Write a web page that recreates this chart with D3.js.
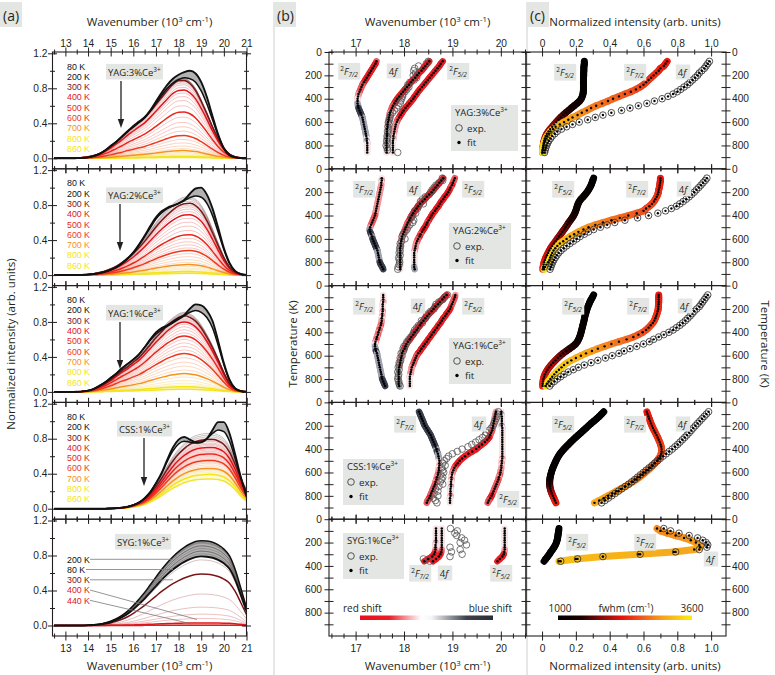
<!DOCTYPE html>
<html><head><meta charset="utf-8">
<script src="https://cdn.jsdelivr.net/npm/d3@7"></script>
<style>
body{margin:0;background:#fff}
text{font-family:'Open Sans','Noto Sans',sans-serif;fill:#231f20}
</style></head>
<body><svg width="775" height="675"></svg>
<script>
// ================= DATA =================
const wn = [12.5,12.75,13,13.25,13.5,13.75,14,14.25,14.5,14.75,15,15.25,15.5,15.75,16,16.25,16.5,16.75,17,17.25,17.5,17.75,18,18.25,18.5,18.75,19,19.25,19.5,19.75,20,20.25,20.5,20.75,21];
const tempsWarm = [220,240,260,280,300,320,340,360,380,400,420,440,460,480,500,520,540,560,580,600,620,640,660,680,700,720,740,760,780,800,820,840,860];
const thickTemps = [80,200,300,400,500,600,700,800,860];
const legendTemps = ["80 K","200 K","300 K","400 K","500 K","600 K","700 K","800 K","860 K"];

const aYAG3_80   = [0,0,0,0,0.002,0.005,0.01,0.025,0.05,0.09,0.14,0.19,0.25,0.31,0.37,0.42,0.47,0.55,0.65,0.75,0.84,0.91,0.955,0.985,1.0,0.97,0.87,0.70,0.48,0.27,0.11,0.035,0.01,0.003,0];
const aYAG3_200  = [0,0,0,0,0.002,0.005,0.01,0.025,0.05,0.09,0.14,0.19,0.25,0.31,0.36,0.41,0.46,0.54,0.63,0.72,0.80,0.86,0.90,0.92,0.91,0.87,0.77,0.62,0.44,0.26,0.12,0.04,0.012,0.003,0];
const aYAG3_warm = [0,0,0,0.002,0.005,0.01,0.02,0.035,0.06,0.10,0.15,0.21,0.27,0.34,0.40,0.46,0.52,0.60,0.69,0.78,0.87,0.95,0.995,1.0,0.96,0.87,0.73,0.57,0.40,0.25,0.13,0.055,0.02,0.006,0.002];
const aYAG3_amp  = [0.915,0.91,0.905,0.90,0.89,0.875,0.86,0.84,0.81,0.78,0.745,0.705,0.66,0.60,0.53,0.47,0.41,0.36,0.31,0.26,0.215,0.175,0.14,0.11,0.088,0.068,0.052,0.04,0.03,0.022,0.017,0.013,0.01];

const aYAG2_80   = [0,0,0,0,0.001,0.003,0.006,0.012,0.022,0.038,0.06,0.09,0.135,0.19,0.26,0.35,0.45,0.56,0.66,0.73,0.77,0.795,0.82,0.86,0.93,0.99,1.0,0.92,0.76,0.54,0.31,0.14,0.045,0.012,0.003];
const aYAG2_200  = [0,0,0,0,0.001,0.003,0.006,0.012,0.022,0.038,0.06,0.09,0.135,0.19,0.25,0.34,0.44,0.54,0.64,0.71,0.76,0.79,0.82,0.85,0.885,0.905,0.89,0.82,0.68,0.49,0.29,0.13,0.045,0.012,0.003];
const aYAG2_warm = [0,0,0,0,0.002,0.005,0.01,0.02,0.035,0.055,0.085,0.12,0.17,0.23,0.30,0.38,0.47,0.57,0.67,0.76,0.84,0.91,0.965,0.995,1.0,0.97,0.89,0.76,0.59,0.41,0.24,0.11,0.04,0.012,0.003];
const aYAG2_amp  = [0.895,0.88,0.865,0.845,0.82,0.80,0.78,0.755,0.725,0.69,0.65,0.605,0.56,0.51,0.46,0.42,0.38,0.345,0.31,0.28,0.245,0.21,0.175,0.145,0.12,0.10,0.08,0.065,0.05,0.04,0.032,0.025,0.02];

const aYAG1_80   = [0,0,0,0,0.002,0.006,0.015,0.035,0.07,0.11,0.16,0.21,0.27,0.32,0.37,0.43,0.51,0.60,0.68,0.73,0.76,0.80,0.84,0.88,0.95,1.0,0.99,0.93,0.81,0.58,0.33,0.14,0.04,0.01,0.002];
const aYAG1_200  = [0,0,0,0,0.002,0.006,0.015,0.035,0.07,0.11,0.16,0.21,0.27,0.32,0.37,0.43,0.51,0.59,0.66,0.71,0.75,0.79,0.83,0.87,0.91,0.93,0.91,0.85,0.73,0.53,0.31,0.13,0.04,0.01,0.002];
const aYAG1_warm = [0,0,0,0,0.002,0.006,0.015,0.035,0.07,0.11,0.16,0.22,0.28,0.33,0.39,0.45,0.53,0.62,0.71,0.79,0.87,0.93,0.98,1.0,0.98,0.93,0.84,0.72,0.58,0.42,0.25,0.11,0.035,0.009,0.002];
const aYAG1_amp  = [0.91,0.90,0.89,0.88,0.87,0.86,0.845,0.83,0.815,0.80,0.775,0.745,0.71,0.675,0.64,0.60,0.56,0.52,0.48,0.44,0.39,0.34,0.295,0.25,0.21,0.17,0.13,0.10,0.08,0.06,0.05,0.04,0.03];

const aCSS_80    = [0,0,0,0,0,0,0,0,0,0,0.003,0.006,0.012,0.022,0.04,0.07,0.12,0.19,0.29,0.41,0.56,0.70,0.79,0.82,0.79,0.76,0.76,0.80,0.90,0.99,0.99,0.86,0.62,0.36,0.14];
const aCSS_200   = [0,0,0,0,0,0,0,0,0,0,0.003,0.006,0.012,0.022,0.04,0.07,0.12,0.19,0.29,0.40,0.54,0.66,0.74,0.77,0.76,0.75,0.76,0.80,0.86,0.90,0.88,0.77,0.57,0.35,0.15];
const aCSS_warm  = [0,0,0,0,0,0,0,0,0,0,0.003,0.008,0.016,0.03,0.055,0.09,0.14,0.22,0.32,0.44,0.57,0.69,0.79,0.87,0.93,0.97,0.99,1.0,1.0,0.98,0.93,0.82,0.64,0.43,0.25];
const aCSS_amp   = [0.86,0.84,0.82,0.80,0.79,0.77,0.75,0.735,0.72,0.70,0.685,0.67,0.655,0.64,0.625,0.61,0.595,0.58,0.565,0.55,0.535,0.52,0.50,0.48,0.46,0.445,0.43,0.415,0.40,0.39,0.375,0.36,0.34];

const aSYG_temps = [80,100,120,140,160,180,200,220,240,260,280,300,320,340,360,380,400,420,440];
const aSYG_shape = [0,0,0,0,0,0,0.003,0.008,0.016,0.03,0.05,0.08,0.12,0.17,0.235,0.31,0.39,0.48,0.57,0.66,0.74,0.81,0.87,0.92,0.96,0.99,1.0,0.995,0.98,0.95,0.90,0.82,0.66,0.44,0.21];
const aSYG_amp   = [0.79,0.82,0.85,0.88,0.91,0.94,0.97,0.95,0.91,0.85,0.75,0.59,0.36,0.21,0.13,0.08,0.03,0.012,0.004];
const sygThick = [80,200,300,400,440];
const sygLegend = ["200 K","80 K","300 K","400 K","440 K"];

const tempsK = [80,100,120,140,160,180,200,220,240,260,280,300,320,340,360,380,400,420,440,460,480,500,520,540,560,580,600,620,640,660,680,700,720,740,760,780,800,820,840,860];
const tempsSYG = [80,100,120,140,160,180,200,220,240,260,280,300,320,340,360];

const bYAG3_F72 = [17.43,17.41,17.38,17.35,17.32,17.29,17.26,17.23,17.20,17.17,17.14,17.12,17.10,17.08,17.06,17.05,17.04,17.04,17.04,17.05,17.06,17.08,17.10,17.12,17.14,17.15,17.16,17.17,17.18,17.19,17.20,17.21,17.22,17.23,17.23,17.24,17.24,17.24,17.24,17.24];
const bYAG3_4f  = [18.52,18.48,18.44,18.40,18.36,18.31,18.27,18.23,18.18,18.14,18.10,18.06,18.02,17.98,17.94,17.90,17.86,17.83,17.80,17.77,17.75,17.73,17.71,17.70,17.69,17.68,17.67,17.66,17.66,17.65,17.65,17.65,17.65,17.64,17.64,17.64,17.64,17.64,17.64,17.64];
const bYAG3_F52 = [18.80,18.76,18.73,18.69,18.65,18.61,18.57,18.53,18.49,18.45,18.41,18.37,18.33,18.29,18.26,18.22,18.19,18.15,18.11,18.07,18.03,17.99,17.96,17.93,17.90,17.87,17.85,17.83,17.82,17.81,17.80,17.79,17.78,17.78,17.77,17.77,17.77,17.77,17.77,17.77];
const bYAG3_exp = [18.50,18.46,18.30,18.22,18.20,18.24,18.19,18.26,18.21,18.12,18.08,18.10,18.06,18.02,17.98,17.97,17.95,17.93,17.92,17.88,17.85,17.80,17.76,17.72,17.71,17.70,17.68,17.69,17.67,17.68,17.66,17.67,17.65,17.66,17.64,17.66,17.63,17.65,17.66,17.87];

const bYAG2_F72 = [17.54,17.54,17.53,17.53,17.52,17.51,17.50,17.49,17.48,17.47,17.46,17.45,17.44,17.43,17.42,17.41,17.40,17.38,17.36,17.34,17.32,17.30,17.29,17.30,17.32,17.34,17.35,17.37,17.39,17.41,17.43,17.45,17.46,17.47,17.48,17.49,17.50,17.52,17.55,17.57];
const bYAG2_4f  = [18.81,18.77,18.73,18.69,18.65,18.61,18.57,18.52,18.47,18.43,18.38,18.33,18.29,18.26,18.22,18.19,18.16,18.13,18.11,18.08,18.06,18.04,18.02,18.00,17.98,17.96,17.95,17.94,17.93,17.93,17.92,17.92,17.92,17.92,17.92,17.92,17.92,17.92,17.92,17.92];
const bYAG2_F52 = [19.05,19.03,19.01,18.99,18.96,18.94,18.91,18.88,18.84,18.81,18.77,18.74,18.71,18.67,18.64,18.60,18.57,18.54,18.51,18.48,18.46,18.43,18.40,18.37,18.34,18.32,18.29,18.27,18.25,18.24,18.23,18.22,18.21,18.21,18.21,18.21,18.21,18.21,18.21,18.22];
const bYAG2_exp = [18.79,18.80,18.72,18.66,18.62,18.58,18.55,18.52,18.44,18.38,18.34,18.40,18.30,18.28,18.22,18.24,18.18,18.15,18.20,18.18,18.12,18.08,18.06,18.02,17.98,17.96,18.02,17.95,17.92,17.93,17.91,17.92,17.90,17.92,17.89,17.90,17.91,17.90,17.88,17.87];

const bYAG1_F72 = [17.57,17.57,17.57,17.57,17.56,17.56,17.56,17.56,17.55,17.55,17.54,17.54,17.53,17.52,17.50,17.49,17.47,17.46,17.44,17.43,17.41,17.40,17.40,17.41,17.42,17.44,17.45,17.46,17.47,17.48,17.49,17.50,17.51,17.52,17.53,17.54,17.55,17.57,17.59,17.61];
const bYAG1_4f  = [18.88,18.83,18.79,18.74,18.70,18.65,18.61,18.57,18.52,18.48,18.44,18.40,18.36,18.33,18.29,18.26,18.22,18.19,18.15,18.12,18.08,18.05,18.03,18.01,17.98,17.96,17.95,17.94,17.93,17.92,17.91,17.90,17.89,17.89,17.89,17.89,17.89,17.89,17.89,17.90];
const bYAG1_F52 = [19.06,19.05,19.03,19.01,18.99,18.97,18.95,18.92,18.88,18.85,18.81,18.78,18.75,18.71,18.68,18.64,18.61,18.57,18.54,18.50,18.47,18.43,18.40,18.36,18.33,18.29,18.26,18.24,18.22,18.20,18.18,18.16,18.15,18.14,18.13,18.12,18.12,18.12,18.12,18.12];
const bYAG1_exp = [18.90,18.84,18.80,18.72,18.66,18.64,18.62,18.55,18.50,18.46,18.44,18.36,18.38,18.30,18.26,18.22,18.20,18.18,18.14,18.10,18.06,18.04,18.00,17.98,17.99,17.94,17.96,17.92,17.93,17.90,17.90,17.88,17.90,17.87,17.89,17.88,17.87,17.89,17.90,17.92];

const bCSS_F72 = [18.31,18.33,18.35,18.37,18.39,18.41,18.43,18.46,18.49,18.52,18.55,18.57,18.59,18.61,18.63,18.65,18.67,18.68,18.70,18.71,18.72,18.73,18.73,18.73,18.72,18.72,18.71,18.70,18.68,18.67,18.65,18.64,18.62,18.60,18.58,18.56,18.54,18.52,18.49,18.47];
const bCSS_4f  = [19.90,19.89,19.88,19.87,19.86,19.85,19.84,19.83,19.82,19.80,19.78,19.76,19.72,19.67,19.61,19.55,19.49,19.41,19.33,19.26,19.20,19.15,19.11,19.07,19.04,19.02,19.00,18.99,18.98,18.98,18.97,18.97,18.97,18.96,18.96,18.96,18.96,18.95,18.95,18.95];
const bCSS_F52 = [20.01,20.01,20.02,20.02,20.02,20.02,20.02,20.03,20.03,20.03,20.03,20.03,20.03,20.03,20.03,20.03,20.03,20.03,20.03,20.03,20.03,20.02,20.02,20.01,20.01,20.00,19.99,19.98,19.96,19.95,19.93,19.91,19.89,19.87,19.85,19.83,19.81,19.78,19.75,19.73];
const bCSS_exp = [19.95,19.93,19.92,19.90,19.88,19.86,19.84,19.80,19.75,19.70,19.68,19.62,19.55,19.48,19.40,19.32,19.20,19.10,19.00,18.92,18.88,18.83,18.80,18.85,18.78,18.80,18.82,18.76,18.80,18.78,18.75,18.80,18.72,18.65,18.70,18.62,18.70,18.60,18.65,18.68];

const bSYG_F72 = [18.66,18.66,18.66,18.66,18.66,18.66,18.66,18.65,18.65,18.65,18.64,18.62,18.58,18.50,18.42];
const bSYG_4f  = [18.78,18.78,18.78,18.78,18.78,18.78,18.78,18.78,18.78,18.78,18.77,18.75,18.72,18.66,18.60];
const bSYG_F52 = [20.08,20.08,20.08,20.08,20.08,20.08,20.08,20.08,20.08,20.08,20.07,20.06,20.03,19.98,19.93];
const bSYG_exp = [18.96,19.10,19.05,19.09,19.19,19.25,19.16,19.29,18.95,19.16,18.98,19.20,18.95,18.40,18.53];

const cYAG3_F52 = [0.25,0.25,0.248,0.247,0.247,0.246,0.246,0.245,0.245,0.245,0.245,0.245,0.245,0.244,0.242,0.238,0.232,0.222,0.207,0.19,0.173,0.157,0.14,0.125,0.11,0.097,0.084,0.072,0.06,0.048,0.038,0.028,0.021,0.016,0.012,0.009,0.007,0.005,0.004,0.003];
const cYAG3_F72 = [0.74,0.73,0.72,0.70,0.69,0.675,0.66,0.645,0.63,0.615,0.60,0.58,0.555,0.525,0.49,0.455,0.42,0.39,0.355,0.32,0.29,0.265,0.235,0.21,0.18,0.155,0.13,0.105,0.08,0.065,0.05,0.04,0.03,0.023,0.017,0.012,0.009,0.006,0.004,0.003];
const cYAG3_4f  = [0.99,0.98,0.97,0.96,0.945,0.93,0.92,0.905,0.89,0.875,0.86,0.84,0.82,0.80,0.775,0.745,0.71,0.665,0.62,0.57,0.52,0.47,0.41,0.36,0.315,0.27,0.22,0.18,0.145,0.115,0.09,0.075,0.06,0.05,0.04,0.033,0.027,0.022,0.018,0.015];

const cYAG2_F52 = [0.305,0.30,0.295,0.29,0.283,0.275,0.266,0.255,0.243,0.23,0.22,0.213,0.208,0.204,0.199,0.194,0.187,0.178,0.168,0.158,0.149,0.14,0.13,0.12,0.11,0.10,0.09,0.08,0.07,0.06,0.051,0.043,0.036,0.029,0.022,0.017,0.012,0.009,0.006,0.004];
const cYAG2_F72 = [0.70,0.70,0.698,0.696,0.694,0.69,0.688,0.684,0.678,0.67,0.662,0.65,0.635,0.615,0.60,0.56,0.51,0.46,0.41,0.36,0.315,0.275,0.245,0.215,0.19,0.165,0.145,0.125,0.105,0.09,0.078,0.068,0.06,0.054,0.048,0.043,0.035,0.026,0.018,0.012];
const cYAG2_4f  = [0.975,0.965,0.952,0.94,0.927,0.913,0.90,0.885,0.87,0.853,0.835,0.815,0.795,0.765,0.73,0.685,0.63,0.565,0.49,0.43,0.385,0.345,0.305,0.275,0.25,0.225,0.205,0.185,0.165,0.145,0.128,0.112,0.098,0.088,0.078,0.07,0.063,0.057,0.052,0.047];

const cYAG1_F52 = [0.305,0.298,0.29,0.283,0.277,0.271,0.266,0.262,0.258,0.254,0.251,0.248,0.245,0.241,0.238,0.234,0.231,0.227,0.222,0.216,0.209,0.198,0.182,0.163,0.143,0.124,0.108,0.093,0.079,0.066,0.053,0.042,0.032,0.024,0.017,0.012,0.008,0.006,0.004,0.003];
const cYAG1_F72 = [0.69,0.69,0.69,0.69,0.689,0.688,0.687,0.684,0.68,0.675,0.67,0.664,0.655,0.643,0.63,0.615,0.595,0.57,0.54,0.50,0.455,0.41,0.37,0.33,0.295,0.26,0.23,0.20,0.173,0.15,0.13,0.115,0.10,0.085,0.072,0.06,0.049,0.038,0.028,0.02];
const cYAG1_4f  = [0.98,0.97,0.96,0.95,0.94,0.93,0.915,0.90,0.888,0.876,0.862,0.848,0.832,0.815,0.795,0.775,0.75,0.72,0.69,0.66,0.635,0.60,0.56,0.52,0.485,0.455,0.415,0.375,0.33,0.29,0.25,0.215,0.185,0.155,0.13,0.11,0.09,0.073,0.055,0.045];

const cCSS_F52 = [0.365,0.352,0.338,0.323,0.307,0.29,0.275,0.26,0.245,0.23,0.214,0.199,0.184,0.17,0.156,0.142,0.129,0.117,0.106,0.097,0.089,0.082,0.076,0.07,0.064,0.059,0.055,0.051,0.048,0.046,0.045,0.045,0.046,0.049,0.053,0.058,0.064,0.07,0.076,0.082];
const cCSS_F72 = [0.62,0.624,0.629,0.634,0.639,0.644,0.65,0.656,0.663,0.67,0.677,0.684,0.69,0.696,0.701,0.705,0.707,0.707,0.704,0.699,0.69,0.68,0.668,0.655,0.641,0.626,0.61,0.594,0.577,0.558,0.537,0.514,0.49,0.465,0.44,0.415,0.39,0.365,0.338,0.31];
const cCSS_4f  = [0.985,0.972,0.959,0.946,0.933,0.92,0.907,0.894,0.882,0.87,0.857,0.844,0.83,0.816,0.802,0.786,0.77,0.752,0.734,0.716,0.699,0.683,0.666,0.65,0.633,0.616,0.599,0.582,0.565,0.548,0.53,0.512,0.492,0.472,0.452,0.432,0.412,0.392,0.372,0.352];

const cSYG_F52 = [0.10,0.098,0.096,0.094,0.092,0.089,0.085,0.079,0.071,0.062,0.052,0.043,0.033,0.022,0.012];
const cSYG_F72 = [0.68,0.70,0.74,0.79,0.84,0.88,0.91,0.93,0.935,0.90,0.78,0.57,0.36,0.20,0.10];
const cSYG_4f  = [0.72,0.76,0.81,0.87,0.92,0.95,0.97,0.98,0.975,0.93,0.79,0.58,0.36,0.21,0.11];

const fwhmYAG3_F52 = [[80,1000],[420,1150],[600,1750],[860,2350]];
const fwhmYAG3_F72 = [[80,2250],[300,2500],[500,2850],[700,3300],[860,3500]];
const fwhmYAG2_F52 = [[80,1000],[350,1250],[550,1800],[860,2350]];
const fwhmYAG2_F72 = [[80,2250],[350,2550],[500,2900],[700,3350],[860,3500]];
const fwhmYAG1_F52 = [[80,1000],[480,1250],[650,1900],[860,2350]];
const fwhmYAG1_F72 = [[80,2250],[400,2550],[550,2950],[720,3350],[860,3500]];
const fwhmCSS_F52  = [[80,1000],[650,1150],[760,1800],[860,2350]];
const fwhmCSS_F72  = [[80,2250],[350,2450],[600,2800],[860,3100]];
const fwhmSYG_F52  = [[80,1000],[360,1050]];
const fwhmSYG_F72  = [[80,2900],[240,3000],[360,3250]];

const samples = ["YAG:3%Ce","YAG:2%Ce","YAG:1%Ce","CSS:1%Ce","SYG:1%Ce"];
const aYTicks = [0,0.4,0.8,1.2], aYMinor = [0.2,0.6,1.0];
const aXTicks = [13,14,15,16,17,18,19,20,21], aXMinor = [12.5,13.5,14.5,15.5,16.5,17.5,18.5,19.5,20.5];
const bXTicks = [17,18,19,20], bXMinor = [16.5,16.75,17.25,17.5,17.75,18.25,18.5,18.75,19.25,19.5,19.75,20.25,20.5];
const tTicks = [0,200,400,600,800], tMinor = [100,300,500,700,900];
const cXTicks = [0,0.2,0.4,0.6,0.8,1.0], cXMinor = [0.1,0.3,0.5,0.7,0.9];

// ================= LAYOUT / HELPERS =================
const FONT = "'Open Sans','Noto Sans',sans-serif";
const LFONT = "'Liberation Sans',Arial,sans-serif";
const INK = "#231f20", BOXC = "#e3e6e3";
const svg = d3.select("svg");
const defs = svg.append("defs");
const TOP = 52, RH = 116.8;
const rowTop = i => TOP + i*RH;
const xA = d3.scaleLinear().domain([12.43,21]).range([52.5,246.5]);
const xB = d3.scaleLinear().domain([16.45,20.52]).range([329,526]);
const xC = d3.scaleLinear().domain([-0.095,1.088]).range([526,726]);
const yA = i => d3.scaleLinear().domain([-0.12,1.215]).range([rowTop(i)+RH,rowTop(i)]);
const yT = i => d3.scaleLinear().domain([0,1000]).range([rowTop(i),rowTop(i)+RH]);

const tempColor = d3.scaleLinear().domain([80,200,300,400,500,600,700,800,860])
  .range(["#111111","#111111","#7b1518","#e0151b","#e8281d","#ec3b1e","#f6921e","#f4e41c","#f2e52a"]);
const shiftColor = d3.scaleLinear().domain([-0.03,-0.012,0,0.008,0.02])
  .range(["#ea1c24","#f2868a","#f6e4e6","#b4b7c6","#3b404e"]).clamp(true);
const fwhmStops = [0,0.18,0.33,0.48,0.62,0.78,1];
const fwhmCols = ["#000000","#1e0000","#8b0a0a","#e8140c","#f05420","#f7a21c","#f8ef10"];
const fwhmColor = d3.scaleLinear().domain(fwhmStops.map(s=>1000+s*2600)).range(fwhmCols).clamp(true);

function rich(parent, x, y, parts, size, anchor, color){
  const t = parent.append("text").attr("x",x).attr("y",y).attr("font-size",size)
    .attr("text-anchor",anchor||"start").style("fill",color||INK);
  let shift = 0;
  parts.forEach(([s,k])=>{
    k = k||"";
    const ts = t.append("tspan").text(s);
    let target = 0;
    if (k.includes("sup")) { target = -0.38*size; ts.attr("font-size",size*0.68); }
    if (k.includes("sub")) { target = 0.22*size; ts.attr("font-size",size*0.68); }
    if (k.includes("it")) ts.attr("font-style","italic");
    if (target !== shift) { ts.attr("dy", target-shift); shift = target; }
  });
  return t;
}
function boxed(parent, x, y, parts, size, anchor, padX, padY){
  const g = parent.append("g");
  const t = rich(g, x, y, parts, size, anchor);
  const b = t.node().getBBox();
  g.insert("rect","text").attr("x",b.x-padX).attr("y",b.y-padY).attr("width",b.width+2*padX)
    .attr("height",b.height+2*padY).attr("fill",BOXC);
  return g;
}
const F72 = [["2","sup"],["F","it"],["7/2","sub it"]];
const F52 = [["2","sup"],["F","it"],["5/2","sub it"]];
const F4f = [["4",""],["f","it"]];
const sampleParts = s => [[s,""],["3+","sup"]];

function axisG(axisGen, scale, vals, len, fmt, pad, pos, horizontal){
  const ax = axisGen(scale).tickValues(vals).tickSizeInner(0).tickSizeOuter(0).tickPadding(pad)
    .tickFormat(fmt || (()=>""));
  const g = svg.append("g").attr("transform", horizontal?`translate(0,${pos})`:`translate(${pos},0)`).call(ax);
  g.select(".domain").remove();
  g.attr("font-family",null).attr("font-size",null);
  const ln = g.selectAll(".tick line").attr("stroke",INK).attr("stroke-width",1);
  if (horizontal) ln.attr("y1",-len).attr("y2",len); else ln.attr("x1",-len).attr("x2",len);
  g.selectAll(".tick text").attr("font-size",10.2).style("fill",INK).style("font-family",LFONT);
  if (!fmt) g.selectAll(".tick text").remove();
  return g;
}
function frame(x0,x1,y0,y1){
  svg.append("rect").attr("x",x0).attr("y",y0).attr("width",x1-x0).attr("height",y1-y0)
    .attr("fill","none").attr("stroke",INK).attr("stroke-width",1.1);
}
function arrow(x, y0, y1){
  svg.append("line").attr("x1",x).attr("x2",x).attr("y1",y0).attr("y2",y1-8).attr("stroke",INK).attr("stroke-width",1.3);
  svg.append("path").attr("d",`M${x-3.2},${y1-9}L${x+3.2},${y1-9}L${x},${y1}Z`).attr("fill",INK);
}

// ================= BACKGROUND DECOR =================
svg.append("line").attr("x1",274).attr("x2",274).attr("y1",2).attr("y2",675).attr("stroke","#cdd0cd").attr("stroke-width",1);
svg.append("line").attr("x1",527).attr("x2",527).attr("y1",2).attr("y2",675).attr("stroke","#cdd0cd").attr("stroke-width",1);
[["(a)",0],["(b)",274],["(c)",527]].forEach(([s,x])=>{
  svg.append("rect").attr("x",x).attr("y",2).attr("width",22).attr("height",25).attr("fill",BOXC);
  svg.append("text").attr("x",x+3).attr("y",21).attr("font-size",14).text(s);
});

// ================= (a) SPECTRA =================
const aSets = [
  {cold:aYAG3_80, w200:aYAG3_200, warm:aYAG3_warm, amp:aYAG3_amp},
  {cold:aYAG2_80, w200:aYAG2_200, warm:aYAG2_warm, amp:aYAG2_amp},
  {cold:aYAG1_80, w200:aYAG1_200, warm:aYAG1_warm, amp:aYAG1_amp},
  {cold:aCSS_80,  w200:aCSS_200,  warm:aCSS_warm,  amp:aCSS_amp}
];
for (let i=0;i<5;i++){
  defs.append("clipPath").attr("id","clipA"+i).append("rect")
    .attr("x",xA.range()[0]).attr("y",rowTop(i)).attr("width",xA.range()[1]-xA.range()[0]).attr("height",RH);
}
function drawSpectra(i, curves, thick, lowT, highT){
  const y = yA(i);
  const g = svg.append("g").attr("clip-path",`url(#clipA${i})`);
  const line = d3.line().x((d,k)=>xA(wn[k])).y(d=>y(d)).curve(d3.curveMonotoneX);
  const cLow = curves.find(c=>c.T===lowT).v, cHigh = curves.find(c=>c.T===highT).v;
  const area = d3.area().x((d,k)=>xA(wn[k])).y0((d,k)=>y(Math.min(cLow[k],cHigh[k]))).y1((d,k)=>y(Math.max(cLow[k],cHigh[k]))).curve(d3.curveMonotoneX);
  g.append("path").datum(cLow).attr("d",area).attr("fill","#a4a4a4").attr("opacity",0.85);
  curves.filter(c=>!thick.includes(c.T)).forEach(c=>{
    g.append("path").datum(c.v).attr("d",line).attr("fill","none")
      .attr("stroke",c.T<200?"#555":tempColor(c.T)).attr("stroke-opacity",c.T<200?0.5:0.38).attr("stroke-width",0.7);
  });
  curves.filter(c=>thick.includes(c.T)).sort((a,b)=>b.T-a.T).forEach(c=>{
    g.append("path").datum(c.v).attr("d",line).attr("fill","none")
      .attr("stroke",tempColor(c.T)).attr("stroke-width",c.T===80?1.9:1.5);
  });
}
aSets.forEach((s,i)=>{
  const curves = [{T:80,v:s.cold},{T:200,v:s.w200}]
    .concat(tempsWarm.map((T,k)=>({T, v:s.warm.map(w=>w*s.amp[k])})));
  drawSpectra(i, curves, thickTemps, 80, 200);
  legendTemps.forEach((lab,k)=>{
    svg.append("text").attr("x",67).attr("y",rowTop(i)+17.5+k*10.3).attr("font-size",8.8)
      .style("font-family",LFONT).style("fill",tempColor(thickTemps[k])).text(lab);
  });
});
{
  const curves = aSYG_temps.map((T,k)=>({T, v:aSYG_shape.map(w=>w*aSYG_amp[k])}));
  drawSpectra(4, curves, sygThick, 80, 200);
  const yy = [562.5,572.8,583.1,593.4,603.7];
  const cols = ["#111","#111","#7b1518","#e0151b","#e0151b"];
  sygLegend.forEach((lab,k)=>{
    svg.append("text").attr("x",67).attr("y",yy[k]).attr("font-size",8.8).style("font-family",LFONT).style("fill",cols[k]).text(lab);
  });
  const leads = [[90,559.3,173,559.3],[86,569.5,173,569.5],[90,579.8,173,579.8],[90,590,197,619.5],[90,600.3,192,624]];
  leads.forEach(l=>svg.append("line").attr("x1",l[0]).attr("y1",l[1]).attr("x2",l[2]).attr("y2",l[3]).attr("stroke","#7a7a7a").attr("stroke-width",0.8));
}
boxed(svg,108,75.5,sampleParts(samples[0]),9.5,"start",2,1);
arrow(121,81,128);
boxed(svg,108,199,sampleParts(samples[1]),9.5,"start",2,1);
arrow(120,204,251);
boxed(svg,108,316.5,sampleParts(samples[2]),9.5,"start",2,1);
arrow(120,322,369);
boxed(svg,119,432.5,sampleParts(samples[3]),9.5,"start",2,1);
arrow(144,438,486);
boxed(svg,117,545.5,sampleParts(samples[4]),9.5,"start",2,1);

for (let i=0;i<5;i++){
  const y = yA(i);
  frame(52.5,246.5,rowTop(i),rowTop(i)+RH);
  axisG(d3.axisLeft,y,aYTicks,4.5,d3.format(".1f"),5,52.5,false);
  axisG(d3.axisLeft,y,aYMinor,2.5,null,0,52.5,false);
  axisG(d3.axisRight,y,aYTicks,4.5,null,0,246.5,false);
  axisG(d3.axisRight,y,aYMinor,2.5,null,0,246.5,false);
  axisG(d3.axisTop,xA,aXTicks,4.5,i===0?d3.format("d"):null,5.5,rowTop(i),true);
  axisG(d3.axisTop,xA,aXMinor,2.5,null,0,rowTop(i),true);
  axisG(d3.axisBottom,xA,aXTicks,4.5,i===4?d3.format("d"):null,8.5,rowTop(i)+RH,true);
  axisG(d3.axisBottom,xA,aXMinor,2.5,null,0,rowTop(i)+RH,true);
}

// ================= (b) PEAK POSITIONS =================
function drawB(i, temps, series, exp){
  const y = yT(i);
  const g = svg.append("g");
  series.forEach(s=>{
    for (let k=0;k<s.length-1;k++){
      g.append("line").attr("x1",xB(s[k])).attr("y1",y(temps[k])).attr("x2",xB(s[k+1])).attr("y2",y(temps[k+1]))
        .attr("stroke",shiftColor(s[k+1]-s[k])).attr("stroke-width",6.5).attr("stroke-linecap","round");
    }
  });
  g.selectAll(null).data(exp).join("circle").attr("cx",d=>xB(d)).attr("cy",(d,k)=>y(temps[k]))
    .attr("r",3.3).attr("fill","none").attr("stroke","#555").attr("stroke-width",0.8);
  series.forEach(s=>{
    g.selectAll(null).data(s).join("circle").attr("cx",d=>xB(d)).attr("cy",(d,k)=>y(temps[k]))
      .attr("r",1.25).attr("fill","#000");
  });
}
drawB(0,tempsK,[bYAG3_F72,bYAG3_4f,bYAG3_F52],bYAG3_exp);
drawB(1,tempsK,[bYAG2_F72,bYAG2_4f,bYAG2_F52],bYAG2_exp);
drawB(2,tempsK,[bYAG1_F72,bYAG1_4f,bYAG1_F52],bYAG1_exp);
drawB(3,tempsK,[bCSS_F72,bCSS_4f,bCSS_F52],bCSS_exp);
drawB(4,tempsSYG,[bSYG_F72,bSYG_4f,bSYG_F52],bSYG_exp);

const bLabels = [
  [[349,74.5],[393,74.5],[458,74.5]],
  [[364,192.5],[413,192.5],[473,192.5]],
  [[364,309.5],[417,309.5],[473,309.5]],
  [[405,427.5],[478,427.5],[508,502.5]],
  [[420,576.5],[444,576.5],[501,576.5]]
];
bLabels.forEach(r=>{
  boxed(svg,r[0][0],r[0][1],F72,9.5,"middle",2,1);
  boxed(svg,r[1][0],r[1][1],F4f,9.5,"middle",2,1);
  boxed(svg,r[2][0],r[2][1],F52,9.5,"middle",2,1);
});
function bLegend(x, top, w, sample){
  svg.append("rect").attr("x",x).attr("y",top).attr("width",w).attr("height",46).attr("fill",BOXC);
  rich(svg,x+4,top+11,sampleParts(sample),9.5,"start");
  svg.append("circle").attr("cx",x+8).attr("cy",top+23).attr("r",3.3).attr("fill","none").attr("stroke","#444").attr("stroke-width",0.9);
  svg.append("text").attr("x",x+16).attr("y",top+26.5).attr("font-size",9.8).text("exp.");
  svg.append("circle").attr("cx",x+8).attr("cy",top+37.5).attr("r",1.7).attr("fill","#000");
  svg.append("text").attr("x",x+16).attr("y",top+41).attr("font-size",9.8).text("fit");
}
bLegend(451,105,67,samples[0]);
bLegend(449,223,62,samples[1]);
bLegend(449,338,62,samples[2]);
bLegend(343,459,61,samples[3]);
bLegend(343,533,61,samples[4]);

{
  const gr = defs.append("linearGradient").attr("id","shiftGrad");
  [[0,"#e8101c"],[0.22,"#ec1e26"],[0.46,"#ffffff"],[0.54,"#f4f4f6"],[0.8,"#3c414c"],[1,"#2a2e38"]]
    .forEach(([o,c])=>gr.append("stop").attr("offset",o).attr("stop-color",c));
  svg.append("rect").attr("x",360).attr("y",615.5).attr("width",133).attr("height",4.5).attr("fill","url(#shiftGrad)");
  svg.append("text").attr("x",343).attr("y",612).attr("font-size",10).text("red shift");
  svg.append("text").attr("x",512).attr("y",612).attr("font-size",10).attr("text-anchor","end").text("blue shift");
}
for (let i=0;i<5;i++){
  const y = yT(i);
  frame(329,526,rowTop(i),rowTop(i)+RH);
  axisG(d3.axisLeft,y,tTicks,4.5,d3.format("d"),7,329,false);
  axisG(d3.axisLeft,y,tMinor,4.5,null,0,329,false);
  axisG(d3.axisTop,xB,bXTicks,4.5,i===0?d3.format("d"):null,5.5,rowTop(i),true);
  axisG(d3.axisTop,xB,bXMinor,2.5,null,0,rowTop(i),true);
  axisG(d3.axisBottom,xB,bXTicks,4.5,i===4?d3.format("d"):null,8.5,rowTop(i)+RH,true);
  axisG(d3.axisBottom,xB,bXMinor,2.5,null,0,rowTop(i)+RH,true);
}

// ================= (c) INTENSITIES =================
function drawC(i, temps, f52, f72, f4, k52, k72){
  const y = yT(i);
  const g = svg.append("g");
  [[f52,k52],[f72,k72]].forEach(([s,kn])=>{
    const fw = d3.scaleLinear().domain(kn.map(d=>d[0])).range(kn.map(d=>d[1])).clamp(true);
    for (let k=0;k<s.length-1;k++){
      g.append("line").attr("x1",xC(s[k])).attr("y1",y(temps[k])).attr("x2",xC(s[k+1])).attr("y2",y(temps[k+1]))
        .attr("stroke",fwhmColor(fw((temps[k]+temps[k+1])/2))).attr("stroke-width",7).attr("stroke-linecap","round");
    }
  });
  g.selectAll(null).data(f4).join("circle").attr("cx",d=>xC(d)).attr("cy",(d,k)=>y(temps[k]))
    .attr("r",3.3).attr("fill","none").attr("stroke","#333").attr("stroke-width",0.85);
  [f52,f72,f4].forEach(s=>{
    g.selectAll(null).data(s).join("circle").attr("cx",d=>xC(d)).attr("cy",(d,k)=>y(temps[k]))
      .attr("r",1.2).attr("fill","#000");
  });
}
drawC(0,tempsK,cYAG3_F52,cYAG3_F72,cYAG3_4f,fwhmYAG3_F52,fwhmYAG3_F72);
drawC(1,tempsK,cYAG2_F52,cYAG2_F72,cYAG2_4f,fwhmYAG2_F52,fwhmYAG2_F72);
drawC(2,tempsK,cYAG1_F52,cYAG1_F72,cYAG1_4f,fwhmYAG1_F52,fwhmYAG1_F72);
drawC(3,tempsK,cCSS_F52,cCSS_F72,cCSS_4f,fwhmCSS_F52,fwhmCSS_F72);
drawC(4,tempsSYG,cSYG_F52,cSYG_F72,cSYG_4f,fwhmSYG_F52,fwhmSYG_F72);

const cLabels = [
  [[565,75.5],[635,75.5],[682,75.5]],
  [[563,192.5],[637,192.5],[683,192.5]],
  [[573,309.5],[638,309.5],[684,309.5]],
  [[563,427.5],[635,427.5],[682,427.5]],
  [[577,545.5],[645,545.5],[710,562.5]]
];
cLabels.forEach(r=>{
  boxed(svg,r[0][0],r[0][1],F52,9.5,"middle",2,1);
  boxed(svg,r[1][0],r[1][1],F72,9.5,"middle",2,1);
  boxed(svg,r[2][0],r[2][1],F4f,9.5,"middle",2,1);
});
{
  const gr = defs.append("linearGradient").attr("id","fwhmGrad");
  fwhmStops.forEach((o,k)=>gr.append("stop").attr("offset",o).attr("stop-color",fwhmCols[k]));
  svg.append("rect").attr("x",558).attr("y",615.5).attr("width",134).attr("height",4.5).attr("fill","url(#fwhmGrad)");
  svg.append("text").attr("x",560).attr("y",612).attr("font-size",10).attr("text-anchor","middle").text("1000");
  rich(svg,626,612,[["fwhm (cm",""],["-1","sup"],[")",""]],10,"middle");
  svg.append("text").attr("x",692).attr("y",612).attr("font-size",10).attr("text-anchor","middle").text("3600");
}
const cFmt = d => d===0 ? "0" : d3.format(".1f")(d);
for (let i=0;i<5;i++){
  const y = yT(i);
  frame(526,726,rowTop(i),rowTop(i)+RH);
  axisG(d3.axisRight,y,tTicks,4.5,d3.format("d"),6,726,false);
  axisG(d3.axisRight,y,tMinor,4.5,null,0,726,false);
  axisG(d3.axisLeft,y,tTicks.concat(tMinor),4.5,null,0,526,false);
  axisG(d3.axisTop,xC,cXTicks,4.5,i===0?cFmt:null,5.5,rowTop(i),true);
  axisG(d3.axisTop,xC,cXMinor,2.5,null,0,rowTop(i),true);
  axisG(d3.axisBottom,xC,cXTicks,4.5,i===4?cFmt:null,8.5,rowTop(i)+RH,true);
  axisG(d3.axisBottom,xC,cXMinor,2.5,null,0,rowTop(i)+RH,true);
}

// ================= AXIS TITLES =================
const wnTitle = [["Wavenumber (10",""],["3","sup"],[" cm",""],["-1","sup"],[")",""]];
rich(svg,149.5,26,wnTitle,11.5,"middle");
rich(svg,149.5,670,wnTitle,11.5,"middle");
rich(svg,427.5,26,wnTitle,11.5,"middle");
rich(svg,427.5,670,wnTitle,11.5,"middle");
svg.append("text").attr("x",635).attr("y",26).attr("font-size",11.5).attr("text-anchor","middle").text("Normalized intensity (arb. units)");
svg.append("text").attr("x",635).attr("y",670).attr("font-size",11.5).attr("text-anchor","middle").text("Normalized intensity (arb. units)");
svg.append("text").attr("transform","translate(15,344) rotate(-90)").attr("font-size",11.5).attr("text-anchor","middle").text("Normalized intensity (arb. units)");
svg.append("text").attr("transform","translate(297,344) rotate(-90)").attr("font-size",11.5).attr("text-anchor","middle").text("Temperature (K)");
svg.append("text").attr("transform","translate(761,344) rotate(90)").attr("font-size",11.5).attr("text-anchor","middle").text("Temperature (K)");
</script></body></html>
